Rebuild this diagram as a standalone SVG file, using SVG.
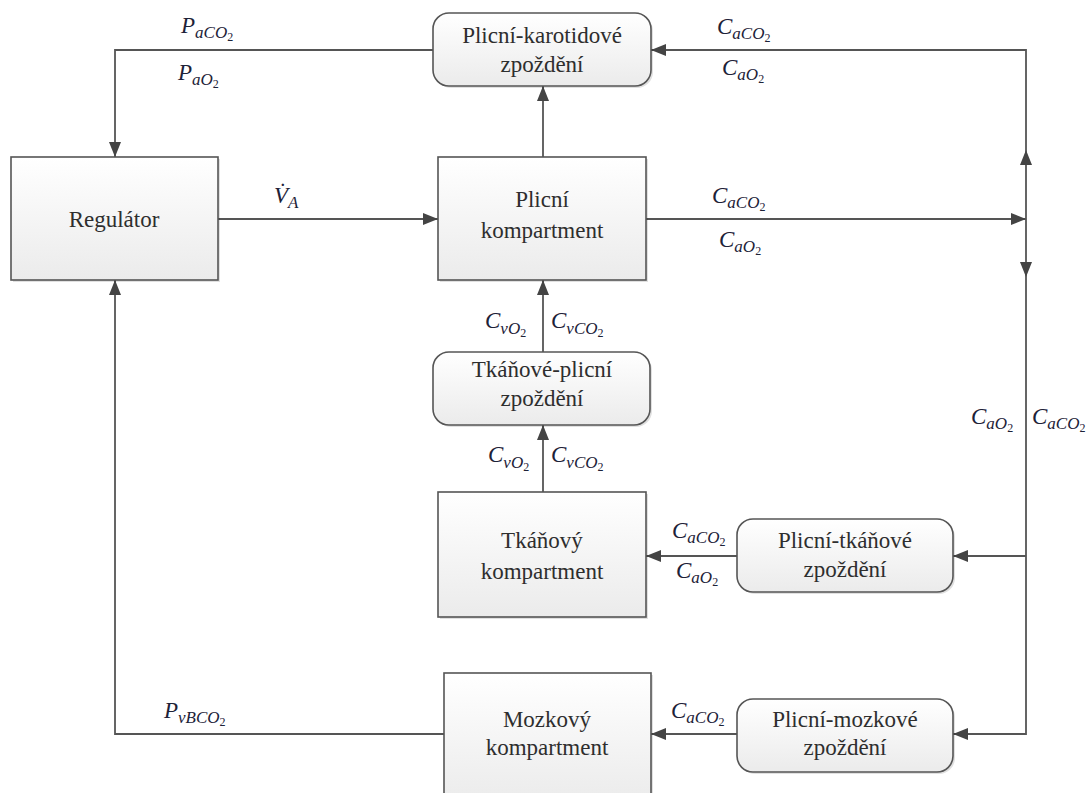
<svg xmlns="http://www.w3.org/2000/svg" width="1088" height="793" viewBox="0 0 1088 793">
<style>
.box{fill:url(#g);stroke:#555;stroke-width:1.6}
.sh{fill:#000;fill-opacity:0.12;stroke:none}
.c{fill:none;stroke:#555;stroke-width:1.8}
.a{marker-end:url(#arr)}
.s{font-size:17px}
.n{font-size:12px;font-style:normal}
</style>
<defs>
<linearGradient id="g" x1="0" y1="0" x2="0" y2="1"><stop offset="0" stop-color="#ffffff"/><stop offset="1" stop-color="#ebebeb"/></linearGradient>
<marker id="arr" markerUnits="userSpaceOnUse" markerWidth="15" markerHeight="12" refX="15" refY="6" orient="auto"><path d="M0,0 L15,6 L0,12 z" fill="#444"/></marker>
</defs>
<g id="connectors">
<path class="c a" d="M433,50 H115 V157"/>
<path class="c a" d="M218,219 H438"/>
<path class="c a" d="M543,157 V86"/>
<path class="c a" d="M646,219 H1026"/>
<path class="c a" d="M1026,219 V150"/>
<path class="c a" d="M1026,150 V50 H651"/>
<path class="c a" d="M1026,219 V277"/>
<path class="c a" d="M1026,277 V734 H953"/>
<path class="c a" d="M1026,556 H953"/>
<path class="c a" d="M543,352 V280"/>
<path class="c a" d="M543,492 V425"/>
<path class="c a" d="M737,556 H646"/>
<path class="c a" d="M737,734 H651"/>
<path class="c a" d="M444,734 H115 V280"/>
</g>
<g font-family="Times New Roman, Liberation Serif, serif" font-size="23" fill="#2e2e2e" text-anchor="middle">
<g id="regulator"><rect class="sh" x="13" y="159" width="207" height="123"/><rect class="box" x="11" y="157" width="207" height="123"/><text x="114" y="227">Regulátor</text></g>
<g id="plicni-kompartment"><rect class="sh" x="440" y="159" width="208" height="123"/><rect class="box" x="438" y="157" width="208" height="123"/><text x="542" y="207">Plicní</text><text x="542" y="238">kompartment</text></g>
<g id="plicni-karotidove"><rect class="sh" x="435" y="15" width="218" height="73" rx="16"/><rect class="box" x="433" y="13" width="218" height="73" rx="16"/><text x="542" y="43">Plicní-karotidové</text><text x="542" y="72">zpoždění</text></g>
<g id="tkanove-plicni"><rect class="sh" x="435" y="354" width="217" height="73" rx="16"/><rect class="box" x="433" y="352" width="217" height="73" rx="16"/><text x="542" y="377">Tkáňové-plicní</text><text x="542" y="406">zpoždění</text></g>
<g id="tkanovy-kompartment"><rect class="sh" x="440" y="494" width="208" height="125"/><rect class="box" x="438" y="492" width="208" height="125"/><text x="542" y="548">Tkáňový</text><text x="542" y="579">kompartment</text></g>
<g id="plicni-tkanove"><rect class="sh" x="739" y="521" width="216" height="73" rx="16"/><rect class="box" x="737" y="519" width="216" height="73" rx="16"/><text x="845" y="548">Plicní-tkáňové</text><text x="845" y="577">zpoždění</text></g>
<g id="mozkovy-kompartment"><rect class="sh" x="446" y="675" width="207" height="130"/><rect class="box" x="444" y="673" width="207" height="130"/><text x="547" y="727">Mozkový</text><text x="547" y="755">kompartment</text></g>
<g id="plicni-mozkove"><rect class="sh" x="739" y="701" width="216" height="73" rx="16"/><rect class="box" x="737" y="699" width="216" height="73" rx="16"/><text x="845" y="727">Plicní-mozkové</text><text x="845" y="755">zpoždění</text></g>
</g>
<g id="labels" font-family="Times New Roman, Liberation Serif, serif" font-style="italic" font-size="23" fill="#1d2238">
<text x="181" y="33">P<tspan class="s" dy="5">aCO</tspan><tspan class="n" dy="3">2</tspan></text>
<text x="178" y="80">P<tspan class="s" dy="5">aO</tspan><tspan class="n" dy="3">2</tspan></text>
<text x="717" y="34">C<tspan class="s" dy="5">aCO</tspan><tspan class="n" dy="3">2</tspan></text>
<text x="722" y="75">C<tspan class="s" dy="5">aO</tspan><tspan class="n" dy="3">2</tspan></text>
<text x="274" y="203">V&#x307;<tspan class="s" dy="5">A</tspan></text>
<text x="712" y="203">C<tspan class="s" dy="5">aCO</tspan><tspan class="n" dy="3">2</tspan></text>
<text x="719" y="247">C<tspan class="s" dy="5">aO</tspan><tspan class="n" dy="3">2</tspan></text>
<text x="485" y="328">C<tspan class="s" dy="6">vO</tspan><tspan class="n" dy="3">2</tspan></text>
<text x="551" y="328">C<tspan class="s" dy="6">vCO</tspan><tspan class="n" dy="3">2</tspan></text>
<text x="488" y="462">C<tspan class="s" dy="6">vO</tspan><tspan class="n" dy="3">2</tspan></text>
<text x="551" y="462">C<tspan class="s" dy="6">vCO</tspan><tspan class="n" dy="3">2</tspan></text>
<text x="971" y="424">C<tspan class="s" dy="5">aO</tspan><tspan class="n" dy="3">2</tspan></text>
<text x="1032" y="424">C<tspan class="s" dy="5">aCO</tspan><tspan class="n" dy="3">2</tspan></text>
<text x="672" y="538">C<tspan class="s" dy="5">aCO</tspan><tspan class="n" dy="3">2</tspan></text>
<text x="676" y="578">C<tspan class="s" dy="5">aO</tspan><tspan class="n" dy="3">2</tspan></text>
<text x="671" y="718">C<tspan class="s" dy="5">aCO</tspan><tspan class="n" dy="3">2</tspan></text>
<text x="164" y="718">P<tspan class="s" dy="5">vBCO</tspan><tspan class="n" dy="3">2</tspan></text>
</g>
</svg>
